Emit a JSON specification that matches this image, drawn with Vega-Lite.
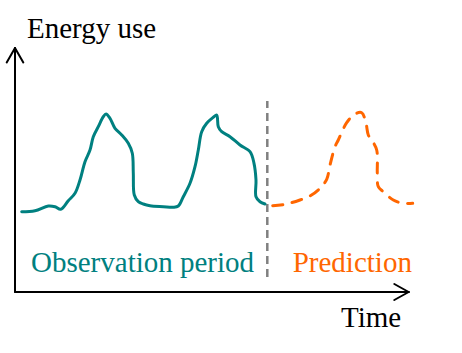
{
  "$schema": "https://vega.github.io/schema/vega-lite/v6.json",
  "autosize": {"type": "fit", "contains": "padding"},
  "width": 462,
  "height": 353,
  "padding": 0,
  "background": "white",
  "view": {"stroke": null},
  "config": {"axis": {"grid": false}},
  "datasets": {
    "observed": [
      {"i": 1, "t": 6.7, "e": 80.3}, {"i": 2, "t": 20, "e": 81.3}, {"i": 3, "t": 33.3, "e": 86},
      {"i": 4, "t": 40, "e": 85.3}, {"i": 5, "t": 45.7, "e": 82.7}, {"i": 6, "t": 53.3, "e": 91.3},
      {"i": 7, "t": 60, "e": 98.7}, {"i": 8, "t": 65, "e": 112}, {"i": 9, "t": 70, "e": 130.3},
      {"i": 10, "t": 75, "e": 142}, {"i": 11, "t": 78.3, "e": 155.3}, {"i": 12, "t": 83.3, "e": 165.3},
      {"i": 13, "t": 88.3, "e": 175.3}, {"i": 14, "t": 91, "e": 178}, {"i": 15, "t": 95, "e": 173.7},
      {"i": 16, "t": 100, "e": 163.7}, {"i": 17, "t": 106.7, "e": 157}, {"i": 18, "t": 113.3, "e": 148.7},
      {"i": 19, "t": 117.3, "e": 138.7}, {"i": 20, "t": 118.3, "e": 118.7}, {"i": 21, "t": 119.3, "e": 97},
      {"i": 22, "t": 123.3, "e": 90.3}, {"i": 23, "t": 128.3, "e": 88}, {"i": 24, "t": 135, "e": 86.3},
      {"i": 25, "t": 148.3, "e": 85.3}, {"i": 26, "t": 158.3, "e": 84.7}, {"i": 27, "t": 163.3, "e": 86},
      {"i": 28, "t": 168.3, "e": 95.3}, {"i": 29, "t": 175, "e": 108.7}, {"i": 30, "t": 180, "e": 125.3},
      {"i": 31, "t": 183.3, "e": 142}, {"i": 32, "t": 186.7, "e": 160.3}, {"i": 33, "t": 191.7, "e": 168.7},
      {"i": 34, "t": 198.3, "e": 174.7}, {"i": 35, "t": 201.7, "e": 177}, {"i": 36, "t": 203.3, "e": 165.3},
      {"i": 37, "t": 206.7, "e": 160.3}, {"i": 38, "t": 215, "e": 155.3}, {"i": 39, "t": 225, "e": 147},
      {"i": 40, "t": 235, "e": 140.3}, {"i": 41, "t": 239, "e": 128.7}, {"i": 42, "t": 241, "e": 112},
      {"i": 43, "t": 241, "e": 95.3}, {"i": 44, "t": 245, "e": 90.3}, {"i": 45, "t": 250, "e": 88}
    ],
    "predicted": [
      {"i": 1, "t": 257.7, "e": 86.3}, {"i": 2, "t": 270, "e": 87.7}, {"i": 3, "t": 285, "e": 92},
      {"i": 4, "t": 295, "e": 96}, {"i": 5, "t": 305, "e": 103.7}, {"i": 6, "t": 311.7, "e": 112.7},
      {"i": 7, "t": 315, "e": 127}, {"i": 8, "t": 320, "e": 145.3}, {"i": 9, "t": 323.3, "e": 152},
      {"i": 10, "t": 331.7, "e": 169.3}, {"i": 11, "t": 340, "e": 178}, {"i": 12, "t": 346.7, "e": 179.3},
      {"i": 13, "t": 351, "e": 168.7}, {"i": 14, "t": 353.3, "e": 157}, {"i": 15, "t": 356.7, "e": 152},
      {"i": 16, "t": 361.7, "e": 142}, {"i": 17, "t": 362.3, "e": 118.7}, {"i": 18, "t": 363.3, "e": 105.3},
      {"i": 19, "t": 368.3, "e": 100.3}, {"i": 20, "t": 378.3, "e": 92}, {"i": 21, "t": 388.3, "e": 88.7},
      {"i": 22, "t": 397.7, "e": 88.7}
    ],
    "axes": [
      {"t": 0, "e": 0, "t2": 0, "e2": 244},
      {"t": 0, "e": 0, "t2": 393.7, "e2": 0},
      {"t": 0, "e": 244, "t2": -8.3, "e2": 229.5},
      {"t": 0, "e": 244, "t2": 8.3, "e2": 229.5},
      {"t": 393.7, "e": 0, "t2": 379.3, "e2": 8},
      {"t": 393.7, "e": 0, "t2": 379.3, "e2": -8}
    ],
    "divider": [
      {"t": 252.3, "e": 15, "e2": 191}
    ],
    "labels": [
      {"t": 12, "e": 254, "text": "Energy use", "role": "axis"},
      {"t": 326, "e": -34.7, "text": "Time", "role": "axis"},
      {"t": 16, "e": 20.5, "text": "Observation period", "role": "observation"},
      {"t": 277.7, "e": 20.5, "text": "Prediction", "role": "prediction"}
    ]
  },
  "layer": [
    {
      "data": {"name": "axes"},
      "mark": {"type": "rule", "color": "black", "strokeWidth": 2, "strokeCap": "round"},
      "encoding": {
        "x": {"field": "t", "type": "quantitative", "scale": {"domain": [-15, 447], "nice": false, "zero": false}, "axis": null},
        "y": {"field": "e", "type": "quantitative", "scale": {"domain": [-61, 292], "nice": false, "zero": false}, "axis": null},
        "x2": {"field": "t2"},
        "y2": {"field": "e2"}
      }
    },
    {
      "data": {"name": "divider"},
      "mark": {"type": "rule", "color": "#808080", "strokeWidth": 2.5, "strokeDash": [8, 5]},
      "encoding": {
        "x": {"field": "t", "type": "quantitative", "scale": {"domain": [-15, 447], "nice": false, "zero": false}, "axis": null},
        "y": {"field": "e", "type": "quantitative", "scale": {"domain": [-61, 292], "nice": false, "zero": false}, "axis": null},
        "y2": {"field": "e2"}
      }
    },
    {
      "data": {"name": "observed"},
      "mark": {"type": "line", "color": "#008080", "strokeWidth": 3, "strokeCap": "round", "strokeJoin": "round", "interpolate": "catmull-rom"},
      "encoding": {
        "x": {"field": "t", "type": "quantitative", "scale": {"domain": [-15, 447], "nice": false, "zero": false}, "axis": null},
        "y": {"field": "e", "type": "quantitative", "scale": {"domain": [-61, 292], "nice": false, "zero": false}, "axis": null},
        "order": {"field": "i", "type": "quantitative"}
      }
    },
    {
      "data": {"name": "predicted"},
      "mark": {"type": "line", "color": "#ff6600", "strokeWidth": 3, "strokeCap": "round", "strokeJoin": "round", "strokeDash": [10, 9.6], "interpolate": "catmull-rom"},
      "encoding": {
        "x": {"field": "t", "type": "quantitative", "scale": {"domain": [-15, 447], "nice": false, "zero": false}, "axis": null},
        "y": {"field": "e", "type": "quantitative", "scale": {"domain": [-61, 292], "nice": false, "zero": false}, "axis": null},
        "order": {"field": "i", "type": "quantitative"}
      }
    },
    {
      "data": {"name": "labels"},
      "mark": {"type": "text", "font": "Liberation Serif", "fontSize": 29, "align": "left", "baseline": "alphabetic"},
      "encoding": {
        "x": {"field": "t", "type": "quantitative", "scale": {"domain": [-15, 447], "nice": false, "zero": false}, "axis": null},
        "y": {"field": "e", "type": "quantitative", "scale": {"domain": [-61, 292], "nice": false, "zero": false}, "axis": null},
        "text": {"field": "text"},
        "color": {"field": "role", "type": "nominal", "scale": {"domain": ["axis", "observation", "prediction"], "range": ["black", "#008080", "#ff6600"]}, "legend": null}
      }
    }
  ]
}
